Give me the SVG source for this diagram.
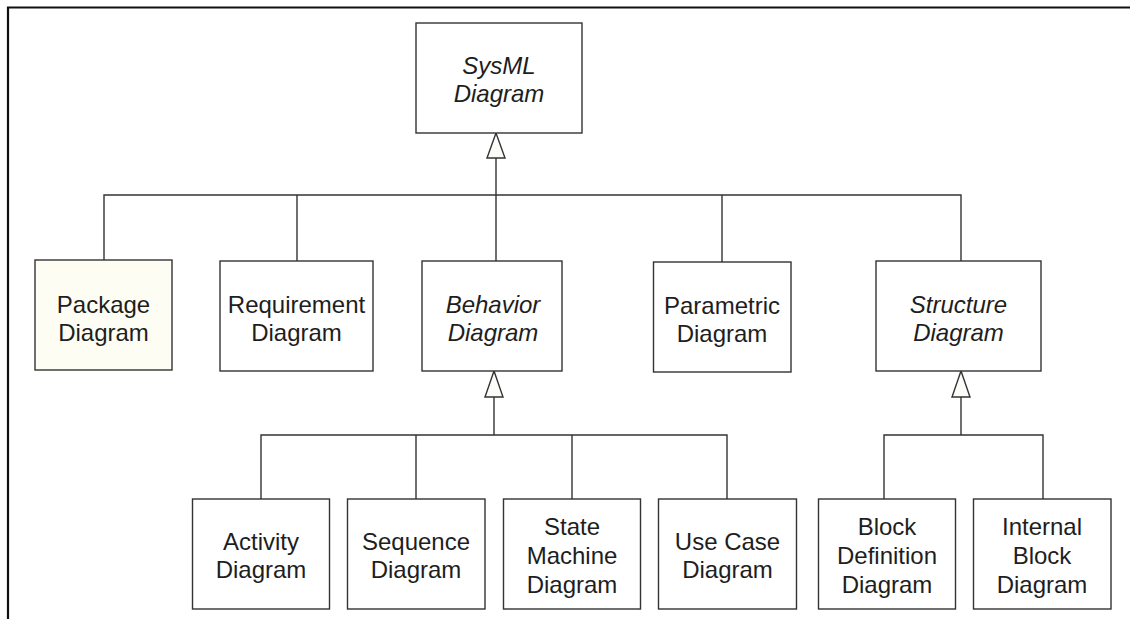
<svg xmlns="http://www.w3.org/2000/svg" width="1130" height="619" viewBox="0 0 1130 619">
  <style>
    .box { fill: #ffffff; stroke: #333333; stroke-width: 1.4; }
    .pkg { fill: #fdfdf4; }
    .lbl { font-family: "Liberation Sans", Arial, Helvetica, sans-serif; font-size: 24px; fill: #1e1e1e; text-anchor: middle; }
    .abs { font-style: italic; }
    .wire { fill: none; stroke: #333333; stroke-width: 1.4; }
    .head { fill: #fdfdf8; stroke: #333333; stroke-width: 1.4; stroke-linejoin: miter; }
    .frame { fill: none; stroke: #111111; stroke-width: 2.2; }
  </style>

  <rect width="1130" height="619" fill="#ffffff"/>

  <!-- page frame (top and left edges only) -->
  <path class="frame" d="M8 619 V7.5 H1130"/>

  <!-- generalization connectors -->
  <g id="connectors">
    <!-- SysML Diagram and its direct subtypes -->
    <path class="wire" d="M496 158 V195"/>
    <path class="wire" d="M104 260 V195 H961 V261"/>
    <path class="wire" d="M297 261 V195"/>
    <path class="wire" d="M496 195 V261"/>
    <path class="wire" d="M722 262 V195"/>
    <polygon class="head" points="496,133 487,158 505,158"/>

    <!-- Behavior Diagram subtypes -->
    <path class="wire" d="M494 397 V435"/>
    <path class="wire" d="M261 499 V435 H727 V499"/>
    <path class="wire" d="M416 499 V435"/>
    <path class="wire" d="M572 499 V435"/>
    <polygon class="head" points="494,371 485,397 503,397"/>

    <!-- Structure Diagram subtypes -->
    <path class="wire" d="M961 397 V435"/>
    <path class="wire" d="M884 499 V435 H1043 V499"/>
    <polygon class="head" points="961,371 952,397 970,397"/>
  </g>

  <g id="sysml-diagram">
    <rect class="box" x="416" y="23" width="166" height="110"/>
    <text class="lbl abs" x="499" y="73.5">SysML</text>
    <text class="lbl abs" x="499" y="101.5">Diagram</text>
  </g>

  <g id="package-diagram">
    <rect class="box pkg" x="35" y="260" width="137" height="110"/>
    <text class="lbl" x="103.5" y="312.5">Package</text>
    <text class="lbl" x="103.5" y="340.5">Diagram</text>
  </g>

  <g id="requirement-diagram">
    <rect class="box" x="220" y="261" width="153" height="110"/>
    <text class="lbl" x="296.5" y="312.5">Requirement</text>
    <text class="lbl" x="296.5" y="340.5">Diagram</text>
  </g>

  <g id="behavior-diagram">
    <rect class="box" x="422" y="261" width="140" height="110"/>
    <text class="lbl abs" x="493" y="312.5">Behavior</text>
    <text class="lbl abs" x="493" y="340.5">Diagram</text>
  </g>

  <g id="parametric-diagram">
    <rect class="box" x="653.5" y="262" width="137.5" height="110"/>
    <text class="lbl" x="722" y="313.5">Parametric</text>
    <text class="lbl" x="722" y="341.5">Diagram</text>
  </g>

  <g id="structure-diagram">
    <rect class="box" x="876" y="261" width="165" height="110"/>
    <text class="lbl abs" x="958.5" y="312.5">Structure</text>
    <text class="lbl abs" x="958.5" y="340.5">Diagram</text>
  </g>

  <g id="activity-diagram">
    <rect class="box" x="192.5" y="499" width="137" height="110"/>
    <text class="lbl" x="261" y="549.5">Activity</text>
    <text class="lbl" x="261" y="578">Diagram</text>
  </g>

  <g id="sequence-diagram">
    <rect class="box" x="347.5" y="499" width="137.5" height="110"/>
    <text class="lbl" x="416" y="549.5">Sequence</text>
    <text class="lbl" x="416" y="578">Diagram</text>
  </g>

  <g id="state-machine-diagram">
    <rect class="box" x="503.5" y="499" width="137" height="110"/>
    <text class="lbl" x="572" y="534.5">State</text>
    <text class="lbl" x="572" y="563.5">Machine</text>
    <text class="lbl" x="572" y="592.5">Diagram</text>
  </g>

  <g id="use-case-diagram">
    <rect class="box" x="658.5" y="499" width="138" height="110"/>
    <text class="lbl" x="727.5" y="549.5">Use Case</text>
    <text class="lbl" x="727.5" y="578">Diagram</text>
  </g>

  <g id="block-definition-diagram">
    <rect class="box" x="818.5" y="499" width="137" height="110"/>
    <text class="lbl" x="887" y="534.5">Block</text>
    <text class="lbl" x="887" y="563.5">Definition</text>
    <text class="lbl" x="887" y="592.5">Diagram</text>
  </g>

  <g id="internal-block-diagram">
    <rect class="box" x="973.5" y="499" width="137.5" height="110"/>
    <text class="lbl" x="1042" y="534.5">Internal</text>
    <text class="lbl" x="1042" y="563.5">Block</text>
    <text class="lbl" x="1042" y="592.5">Diagram</text>
  </g>
</svg>
